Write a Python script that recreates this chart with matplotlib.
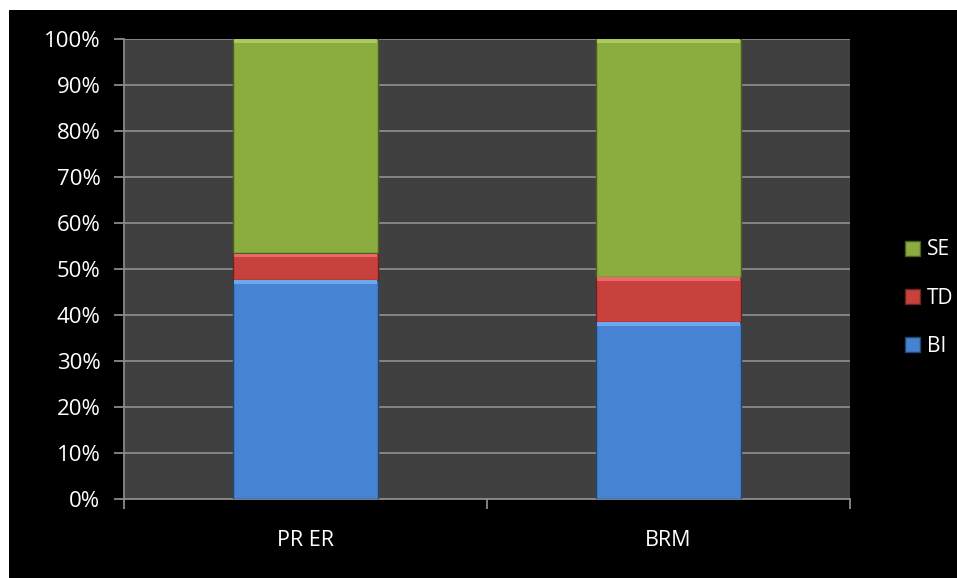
import matplotlib.pyplot as plt
from matplotlib.patches import Rectangle
from matplotlib.ticker import FuncFormatter, FixedLocator

categories = ['PR ER', 'BRM']
series = ['BI', 'TD', 'SE']
bi = [47.6, 38.5]
td = [5.8, 9.8]
se = [46.6, 51.7]

colors = {'BI': '#4683d2', 'TD': '#c8413d', 'SE': '#8bac3e'}
light = {'BI': '#6ea8ec', 'TD': '#e86a66', 'SE': '#aacb5c'}
edges = {'BI': '#23466f', 'TD': '#6e2220', 'SE': '#4c5e22'}

plt.rcParams['font.family'] = ['Open Sans', 'DejaVu Sans']

fig = plt.figure(figsize=(9.57, 5.78), dpi=100, facecolor='white')
# black chart area (white margin on top/left as in the reference)
bg = Rectangle((9 / 957, 0), 1, 1 - 10 / 578, transform=fig.transFigure,
               facecolor='black', edgecolor='none', zorder=-10)
fig.patches.append(bg)

ax = fig.add_axes([124 / 957, 1 - 499 / 578, 726 / 957, 460 / 578], zorder=1)
ax.set_facecolor('#404040')

x = range(len(categories))
width = 0.402
bottom = [0, 0]
for name, vals in zip(series, [bi, td, se]):
    ax.bar(x, vals, width, bottom=bottom, color=colors[name], edgecolor=edges[name],
           linewidth=1.0, zorder=3, label=name)
    # bevel highlight at the top of each segment
    ax.bar(x, [0.7] * len(vals), width * 0.985, bottom=[b + v - 0.8 for b, v in zip(bottom, vals)],
           color=light[name], linewidth=0, zorder=4)
    bottom = [b + v for b, v in zip(bottom, vals)]

ax.set_xlim(-0.5, 1.5)
ax.set_ylim(0, 100)
ax.yaxis.set_major_locator(FixedLocator(range(0, 101, 10)))
ax.yaxis.set_major_formatter(FuncFormatter(lambda v, p: f'{v:.0f}%'))
ax.grid(axis='y', color='#8a8a8a', linewidth=1.3, zorder=1)
ax.set_axisbelow(True)

ax.set_xticks([-0.5, 0.5, 1.5])
ax.set_xticklabels(['', '', ''])
ax.set_xticks([0, 1], minor=True)
ax.set_xticklabels(categories, minor=True)
ax.tick_params(axis='x', which='major', length=7, color='#8a8a8a', width=1.3, direction='out')
ax.tick_params(axis='x', which='minor', length=0, pad=22, labelcolor='white', labelsize=15.5)
ax.tick_params(axis='y', length=7, color='#8a8a8a', width=1.3, labelcolor='white',
               labelsize=16, pad=10)

for s in ['top', 'right']:
    ax.spines[s].set_visible(False)
for s in ['left', 'bottom']:
    ax.spines[s].set_color('#8a8a8a')
    ax.spines[s].set_linewidth(1.3)

handles, labels = ax.get_legend_handles_labels()
leg = fig.legend(handles[::-1], labels[::-1], loc='center left',
                 bbox_to_anchor=(886 / 957, 1 - 298 / 578), frameon=False,
                 labelcolor='white', fontsize=15, handlelength=0.75, handleheight=0.75,
                 handletextpad=0.3, labelspacing=1.3)

fig.savefig('out.png', dpi=100, facecolor='white')
